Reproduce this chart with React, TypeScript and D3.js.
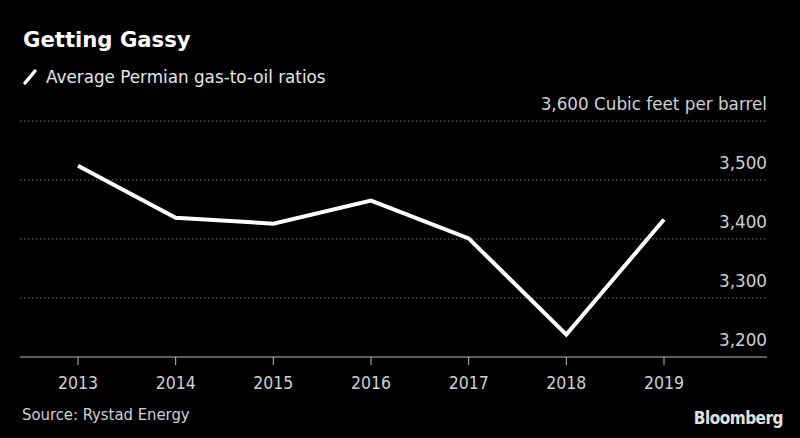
import React from "react";
import * as d3 from "d3";

const years = ["2013", "2014", "2015", "2016", "2017", "2018", "2019"];
const gasOilRatio = [3524, 3436, 3426, 3465, 3401, 3238, 3433];
const yTicks = [3200, 3300, 3400, 3500, 3600];

const W = 800;
const H = 438;
const left = 20;
const right = 767;
const top = 121;
const bottom = 357;

export default function App() {
  const x = d3.scalePoint<string>().domain(years).range([78, 664]);
  const y = d3.scaleLinear().domain([3200, 3600]).range([bottom, top]);
  const line = d3
    .line<number>()
    .x((_, i) => x(years[i]) as number)
    .y((d) => y(d));
  const fmt = d3.format(",");
  const cond = { fontFamily: "DejaVu Sans", fontStretch: "condensed" as const };

  return (
    <svg
      width={W}
      height={H}
      style={{ position: "absolute", left: 0, top: 0, background: "#000" }}
    >
      <rect x={0} y={0} width={W} height={H} fill="#000" />
      <text
        x={23}
        y={47}
        fill="#fff"
        fontFamily="DejaVu Sans"
        fontWeight="bold"
        fontSize={21.2}
      >
        Getting Gassy
      </text>
      <line x1={25} y1={83} x2={35} y2={71} stroke="#fff" strokeWidth={3.5} strokeLinecap="round" />
      <text x={46} y={83} fill="#e6e6e6" fontFamily="DejaVu Sans" fontSize={16.8}>
        Average Permian gas-to-oil ratios
      </text>

      {yTicks.slice(1).map((t) => (
        <line
          key={t}
          x1={left}
          x2={right}
          y1={y(t)}
          y2={y(t)}
          stroke="#777"
          strokeWidth={1}
          strokeDasharray="1.5,2.5"
        />
      ))}
      {yTicks.map((t, i) => (
        <text
          key={"l" + t}
          x={right}
          y={y(t) - 11}
          textAnchor="end"
          fill="#d0d0d0"
          fontFamily="DejaVu Sans"
          fontSize={16.8}
        >
          {i === yTicks.length - 1 ? fmt(t) + " Cubic feet per barrel" : fmt(t)}
        </text>
      ))}

      <line x1={left} x2={right} y1={bottom} y2={bottom} stroke="#bbb" strokeWidth={1.2} />
      {years.map((yr) => (
        <g key={yr}>
          <line
            x1={x(yr)}
            x2={x(yr)}
            y1={bottom}
            y2={bottom + 8}
            stroke="#bbb"
            strokeWidth={1}
          />
          <text
            x={x(yr)}
            y={389}
            textAnchor="middle"
            fill="#d0d0d0"
            {...cond}
            fontSize={17.5}
          >
            {yr}
          </text>
        </g>
      ))}

      <path
        d={line(gasOilRatio) || ""}
        fill="none"
        stroke="#fff"
        strokeWidth={4}
        strokeLinejoin="miter"
      />

      <text x={22} y={420} fill="#d0d0d0" {...cond} fontSize={16.5}>
        Source: Rystad Energy
      </text>
      <text
        x={783}
        y={424}
        textAnchor="end"
        fill="#e0e0e0"
        {...cond}
        fontWeight="bold"
        fontSize={17}
        letterSpacing={-0.5}
      >
        Bloomberg
      </text>
    </svg>
  );
}
